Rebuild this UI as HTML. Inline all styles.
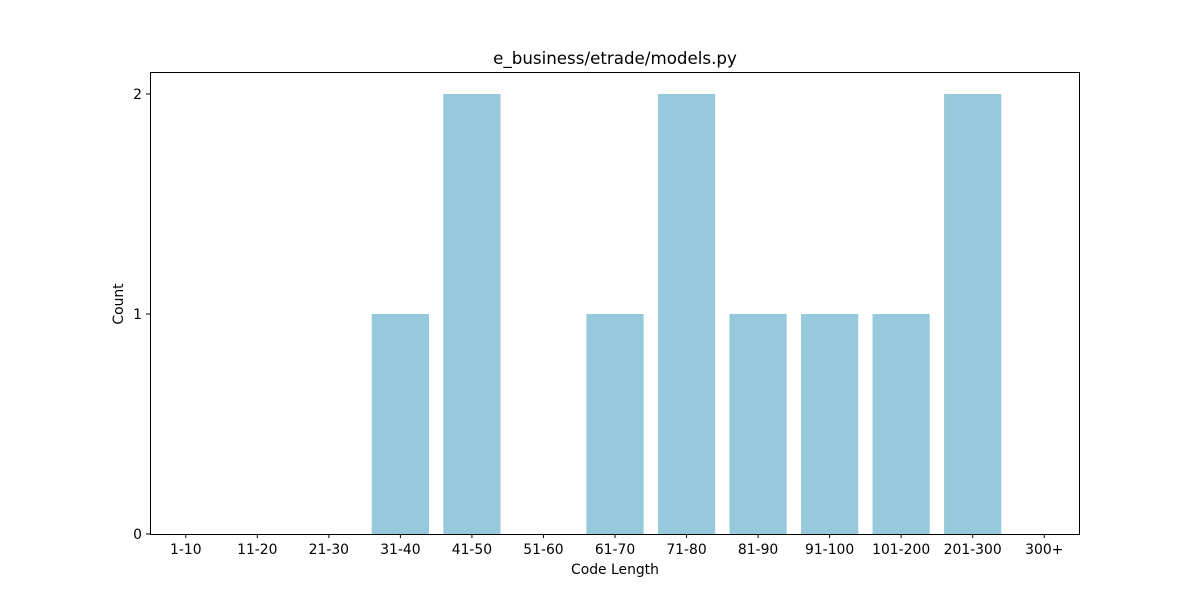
<!DOCTYPE html>
<html><head><meta charset="utf-8"><style>
body{margin:0;background:#fff;}
svg text{font-family:"DejaVu Sans","Liberation Sans",sans-serif;font-size:13.9px;fill:#000;}
</style></head><body>
<svg id="chart" width="1200" height="600">
<rect width="1200" height="600" fill="#fff"/>
<text x="615" y="64" text-anchor="middle" style="font-size:16.7px">e_business/etrade/models.py</text>
<g id="bars"></g>
<rect x="150.5" y="72.5" width="929" height="462" fill="none" stroke="#000" stroke-width="1"/>
<g id="xticks"></g><g id="yticks"></g>
<text x="615" y="574" text-anchor="middle">Code Length</text>
<text transform="translate(123,304) rotate(-90)" text-anchor="middle">Count</text>
</svg>
<script>
const categories=["1-10","11-20","21-30","31-40","41-50","51-60","61-70","71-80","81-90","91-100","101-200","201-300","300+"];
const counts=[0,0,0,1,2,0,1,2,1,1,1,2,0];
const yTicks=[0,1,2];
const NS="http://www.w3.org/2000/svg";
const x0=150,x1=1080,y0=534,yTop=94;
const step=(x1-x0)/categories.length;
const xc=i=>x0+step*(i+0.5);
const ys=v=>y0-(y0-yTop)*v/2;
const bars=document.getElementById('bars'),xt=document.getElementById('xticks'),yt=document.getElementById('yticks');
function mk(t,a){const e=document.createElementNS(NS,t);for(const k in a)e.setAttribute(k,a[k]);return e;}
categories.forEach((c,i)=>{
  const w=step*0.8;
  const r=mk('rect',{x:xc(i)-w/2,y:ys(counts[i]),width:w,height:y0-ys(counts[i]),fill:'#96c9dc'});
  
  
  bars.appendChild(r);
  const l=mk('line',{x1:xc(i),x2:xc(i),y1:534,y2:538,stroke:'#000'});
  
  
  xt.appendChild(l);
  const t=mk('text',{x:xc(i),y:554,'text-anchor':'middle'});t.textContent=c;
  
  
  xt.appendChild(t);
});
yTicks.forEach(v=>{
  const l=mk('line',{x1:146,x2:150,y1:ys(v),y2:ys(v),stroke:'#000'});
  
  
  yt.appendChild(l);
  const t=mk('text',{x:142,y:ys(v)+5,'text-anchor':'end'});t.textContent=v;
  
  
  yt.appendChild(t);
});
</script>
</body></html>
